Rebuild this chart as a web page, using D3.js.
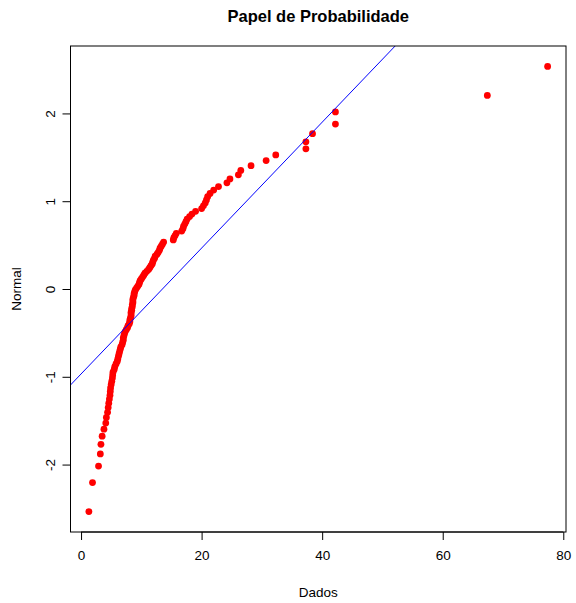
<!DOCTYPE html>
<html>
<head>
<meta charset="utf-8">
<script src="https://cdnjs.cloudflare.com/ajax/libs/d3/7.8.5/d3.min.js"></script>
<style>
body { margin: 0; background: #fff; }
text { font-family: "Liberation Sans", Arial, sans-serif; fill: #000; }
</style>
</head>
<body>
<svg width="576" height="603"></svg>
<script>
// sorted sample values (Dados)
var dados = [1.3, 1.9, 2.9, 3.2, 3.3, 3.5, 3.8, 4.1, 4.2, 4.4,
    4.5, 4.6, 4.7, 4.8, 4.85, 4.9, 5.0, 5.1, 5.2, 5.25,
    5.3, 5.5, 5.6, 5.8, 6.0, 6.1, 6.2, 6.3, 6.4, 6.5,
    6.6, 6.8, 6.9, 7.0, 7.0, 7.1, 7.2, 7.3, 7.5, 7.7,
    7.8, 8.0, 8.1, 8.1, 8.2, 8.3, 8.3, 8.3, 8.4, 8.4,
    8.5, 8.5, 8.6, 8.6, 8.6, 8.7, 8.8, 8.8, 8.9, 9.0,
    9.2, 9.4, 9.6, 9.7, 9.8, 10.0, 10.2, 10.4, 10.6, 10.9,
    11.2, 11.4, 11.6, 11.8, 11.9, 12.0, 12.2, 12.3, 12.6, 12.8,
    13.0, 13.1, 13.3, 13.5, 13.7, 15.3, 15.4, 15.6, 15.8, 16.7,
    16.9, 17.0, 17.2, 17.4, 17.6, 18.0, 18.4, 19.0, 20.0, 20.3,
    20.6, 20.8, 21.0, 21.4, 22.0, 22.8, 24.2, 24.7, 26.1, 26.5,
    28.2, 30.7, 32.3, 37.3, 37.3, 38.4, 42.2, 42.2, 67.4, 77.4];

// normal scores (one per value above)
var normal = [-2.535, -2.205, -2.017, -1.879, -1.769, -1.677, -1.597, -1.527, -1.463, -1.405,
    -1.351, -1.301, -1.254, -1.210, -1.167, -1.127, -1.088, -1.051, -1.015, -0.981,
    -0.948, -0.916, -0.885, -0.854, -0.825, -0.796, -0.767, -0.740, -0.713, -0.686,
    -0.660, -0.634, -0.609, -0.584, -0.559, -0.535, -0.511, -0.488, -0.464, -0.441,
    -0.418, -0.396, -0.374, -0.351, -0.330, -0.308, -0.286, -0.265, -0.243, -0.222,
    -0.201, -0.180, -0.158, -0.136, -0.115, -0.094, -0.073, -0.052, -0.031, -0.010,
    0.010, 0.031, 0.052, 0.073, 0.094, 0.115, 0.136, 0.158, 0.180, 0.201,
    0.222, 0.243, 0.265, 0.286, 0.308, 0.330, 0.351, 0.374, 0.396, 0.418,
    0.441, 0.464, 0.488, 0.511, 0.535, 0.559, 0.584, 0.609, 0.634, 0.660,
    0.686, 0.713, 0.740, 0.767, 0.796, 0.825, 0.854, 0.885, 0.916, 0.948,
    0.981, 1.015, 1.051, 1.088, 1.127, 1.167, 1.210, 1.254, 1.301, 1.351,
    1.405, 1.463, 1.527, 1.597, 1.677, 1.769, 1.879, 2.017, 2.205, 2.535];

// reference line: normal = intercept + slope * dados
var lineIntercept = -0.968,
    lineSlope = 0.0717;

var xTicks = [0, 20, 40, 60, 80],
    yTicks = [-2, -1, 0, 1, 2];

var svg = d3.select("svg"),
    plotL = 70.5, plotR = 566, plotT = 46, plotB = 532;

var x = d3.scaleLinear().domain([-1.75, 80.45]).range([plotL, plotR]),
    y = d3.scaleLinear().domain([-2.768, 2.768]).range([plotB, plotT]);

svg.append("defs").append("clipPath").attr("id", "plotclip")
  .append("rect")
    .attr("x", plotL).attr("y", plotT)
    .attr("width", plotR - plotL).attr("height", plotB - plotT);

// points
var pts = dados.map(function(d, i) { return {x: d, y: normal[i]}; });

svg.append("g")
  .selectAll("circle")
  .data(pts)
  .enter().append("circle")
    .attr("cx", function(d) { return x(d.x); })
    .attr("cy", function(d) { return y(d.y); })
    .attr("r", 3.4)
    .attr("fill", "#ff0000");

// abline
var x0 = x.domain()[0], x1 = x.domain()[1];
svg.append("line")
    .attr("clip-path", "url(#plotclip)")
    .attr("x1", x(x0)).attr("y1", y(lineIntercept + lineSlope * x0))
    .attr("x2", x(x1)).attr("y2", y(lineIntercept + lineSlope * x1))
    .attr("stroke", "#0000ff")
    .attr("stroke-width", 1);

// box
svg.append("rect")
    .attr("x", plotL).attr("y", plotT)
    .attr("width", plotR - plotL).attr("height", plotB - plotT)
    .attr("fill", "none")
    .attr("stroke", "#000")
    .attr("stroke-width", 1);

// x axis
var xAxis = svg.append("g")
    .attr("transform", "translate(0," + plotB + ")")
    .call(d3.axisBottom(x).tickValues(xTicks).tickSize(8).tickPadding(10).tickSizeOuter(0));
xAxis.select(".domain").attr("d", "M" + x(xTicks[0]) + ",0H" + x(xTicks[xTicks.length - 1]));
xAxis.selectAll("text").style("font-size", "13.5px").attr("fill", "#000");

// y axis, labels turned like R does
var yAxis = svg.append("g")
    .attr("transform", "translate(" + plotL + ",0)")
    .call(d3.axisLeft(y).tickValues(yTicks).tickSize(8).tickFormat(function(d) { return d; }).tickSizeOuter(0));
yAxis.select(".domain").attr("d", "M0," + y(yTicks[0]) + "V" + y(yTicks[yTicks.length - 1]));
yAxis.selectAll(".tick text")
    .attr("x", null).attr("dy", null)
    .attr("text-anchor", "middle")
    .attr("transform", "translate(-16,0) rotate(-90)")
    .style("font-size", "13.5px")
    .attr("fill", "#000");

// titles
svg.append("text")
    .attr("x", (plotL + plotR) / 2).attr("y", 22)
    .attr("text-anchor", "middle")
    .style("font-size", "16.5px")
    .style("font-weight", "bold")
    .text("Papel de Probabilidade");

svg.append("text")
    .attr("x", (plotL + plotR) / 2).attr("y", 597)
    .attr("text-anchor", "middle")
    .style("font-size", "13.5px")
    .text("Dados");

svg.append("text")
    .attr("transform", "translate(21," + (plotT + plotB) / 2 + ") rotate(-90)")
    .attr("text-anchor", "middle")
    .style("font-size", "13.5px")
    .text("Normal");
</script>
</body>
</html>
